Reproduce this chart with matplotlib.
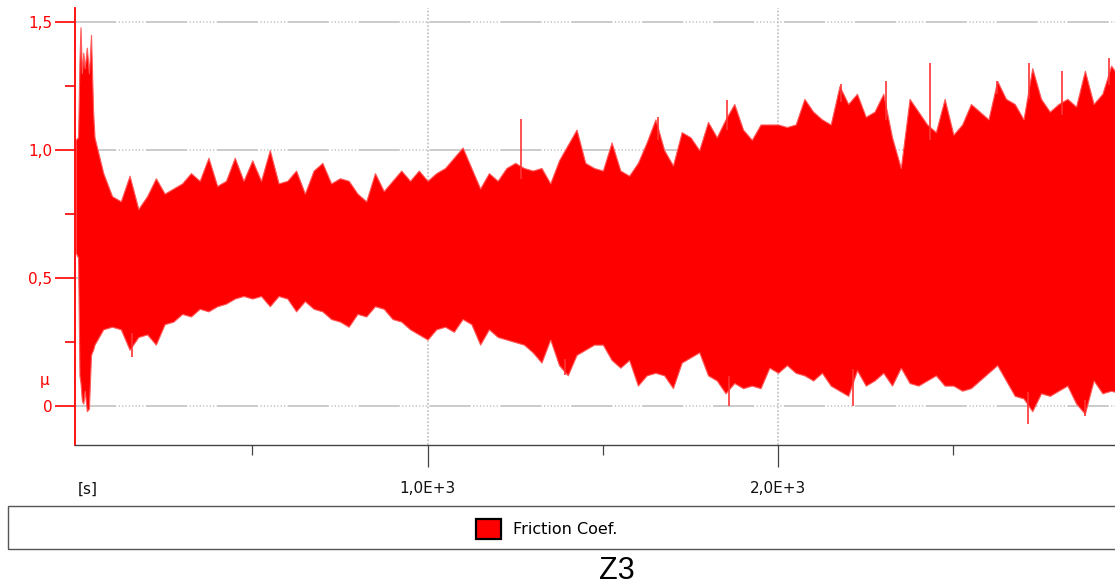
import numpy as np
import matplotlib
matplotlib.use("Agg")
import matplotlib.pyplot as plt
from matplotlib.patches import Patch, Rectangle

plt.rcParams['font.family'] = ['DejaVu Sans']

# ---- data (friction coefficient band vs time [s]) ----
# run-in burst at the very start
t_start = [-4, 3, 7, 10, 14, 18, 22, 28, 34, 40, 46]
hi_start = [1.04, 1.05, 1.35, 1.48, 1.30, 1.38, 1.32, 1.40, 1.30, 1.45, 1.15]
lo_start = [0.60, 0.58, 0.12, 0.09, 0.02, 0.01, 0.06, -0.02, -0.01, 0.20, 0.22]

# rest of the run, one reading every 25 s from 50 s to 2975 s
t_step = 25
mu_hi = [1.05, 0.91, 0.82, 0.80, 0.90, 0.77, 0.82, 0.89, 0.83, 0.85,
         0.87, 0.91, 0.88, 0.97, 0.86, 0.88, 0.97, 0.88, 0.96, 0.88,
         1.00, 0.87, 0.88, 0.92, 0.83, 0.92, 0.95, 0.87, 0.89, 0.88,
         0.83, 0.80, 0.91, 0.84, 0.88, 0.92, 0.88, 0.92, 0.88, 0.91,
         0.93, 0.97, 1.01, 0.93, 0.85, 0.91, 0.88, 0.93, 0.95, 0.93,
         0.92, 0.93, 0.87, 0.96, 1.02, 1.08, 0.95, 0.93, 0.92, 1.03,
         0.92, 0.90, 0.95, 1.03, 1.12, 1.00, 0.94, 1.07, 1.05, 1.00,
         1.11, 1.05, 1.12, 1.18, 1.08, 1.04, 1.10, 1.10, 1.10, 1.09,
         1.10, 1.20, 1.15, 1.12, 1.10, 1.25, 1.18, 1.22, 1.13, 1.15,
         1.22, 1.05, 0.93, 1.20, 1.15, 1.10, 1.07, 1.20, 1.06, 1.10,
         1.18, 1.15, 1.12, 1.27, 1.20, 1.18, 1.12, 1.32, 1.20, 1.15,
         1.18, 1.20, 1.17, 1.31, 1.18, 1.22, 1.33, 1.28]
mu_lo = [0.24, 0.30, 0.31, 0.30, 0.22, 0.27, 0.28, 0.24, 0.32, 0.33,
         0.36, 0.35, 0.38, 0.37, 0.39, 0.40, 0.42, 0.43, 0.42, 0.43,
         0.39, 0.43, 0.42, 0.37, 0.41, 0.38, 0.37, 0.34, 0.33, 0.31,
         0.36, 0.35, 0.39, 0.38, 0.34, 0.33, 0.30, 0.28, 0.26, 0.30,
         0.31, 0.29, 0.34, 0.32, 0.24, 0.30, 0.27, 0.26, 0.25, 0.24,
         0.21, 0.17, 0.26, 0.16, 0.12, 0.20, 0.22, 0.24, 0.24, 0.18,
         0.15, 0.18, 0.08, 0.12, 0.13, 0.12, 0.07, 0.17, 0.19, 0.21,
         0.12, 0.10, 0.05, 0.09, 0.07, 0.08, 0.07, 0.15, 0.13, 0.16,
         0.13, 0.12, 0.10, 0.13, 0.08, 0.06, 0.04, 0.14, 0.08, 0.10,
         0.13, 0.08, 0.15, 0.09, 0.08, 0.10, 0.12, 0.08, 0.08, 0.06,
         0.07, 0.10, 0.13, 0.16, 0.10, 0.04, 0.03, -0.02, 0.05, 0.04,
         0.06, 0.08, 0.01, -0.03, 0.10, 0.05, 0.06, 0.05]

# isolated single spikes
spike_up_t = [1267, 1656, 1854, 2180, 2308, 2434, 2625, 2716, 2810, 2944]
spike_up_mu = [1.12, 1.13, 1.195, 1.26, 1.27, 1.34, 1.27, 1.34, 1.31, 1.36]
spike_dn_t = [157, 1392, 1860, 2214, 2713, 2876]
spike_dn_mu = [0.19, 0.12, 0.00, 0.00, -0.07, -0.04]

y_ticks = [0, 0.5, 1.0, 1.5]
y_labels = ['0', '0,5', '1,0', '1,5']
x_ticks = [1000, 2000]
x_labels = ['1,0E+3', '2,0E+3']

t_grid = 50 + t_step * np.arange(len(mu_hi))
t_all = np.concatenate([t_start, t_grid])
hi_all = np.concatenate([hi_start, mu_hi])
lo_all = np.concatenate([lo_start, mu_lo])

W, H = 1115, 586
fig = plt.figure(figsize=(W / 100, H / 100), dpi=100)
ax = fig.add_axes([75 / W, (H - 445) / H, (W - 75) / W, (445 - 8) / H])

red = '#ff0000'
# grid
grid_ls = (0, (27, 1.6, 0.8, 1.4, 0.8, 1.4, 0.8, 1.4, 0.8, 1.4, 0.8, 1.4, 0.8, 1.4, 0.8, 1.4, 0.8, 1.6))
for v in y_ticks:
    ax.axhline(v, color='#bdbdbd', lw=1.1, ls=grid_ls, zorder=0)
for v in x_ticks:
    ax.axvline(v, color='#bdbdbd', lw=1.1, ls=(0, (1.2, 1.2)), zorder=0)

band = ax.fill_between(t_all, lo_all, hi_all, color=red, lw=0.8,
                       edgecolor=(1, 0.35, 0.35), zorder=2)
base_up = np.interp(spike_up_t, t_all, hi_all)
base_dn = np.interp(spike_dn_t, t_all, lo_all)
ax.vlines(spike_up_t, base_up - 0.05, spike_up_mu, color=(1, 0.2, 0.2), lw=1.2, zorder=2)
ax.vlines(spike_dn_t, spike_dn_mu, base_dn + 0.05, color=(1, 0.2, 0.2), lw=1.2, zorder=2)

ax.set_xlim(-5.7, 2961)
ax.set_ylim(-0.152, 1.555)

ax.spines['top'].set_visible(False)
ax.spines['right'].set_visible(False)
ax.spines['left'].set_color(red)
ax.spines['left'].set_linewidth(1.3)
ax.spines['bottom'].set_color('#444444')
ax.spines['bottom'].set_linewidth(1.0)
for s in ('left', 'bottom'):
    ax.spines[s].set_zorder(3)

ax.set_yticks(y_ticks)
ax.set_yticklabels(y_labels)
ax.set_yticks([0.25, 0.75, 1.25], minor=True)
ax.tick_params(axis='y', which='major', length=14.4, width=1.2, color=red,
               labelcolor=red, labelsize=11, pad=2)
ax.tick_params(axis='y', which='minor', length=7.2, width=1.2, color=red)

ax.set_xticks(x_ticks)
ax.set_xticklabels(x_labels)
ax.set_xticks([500, 1500, 2500], minor=True)
ax.tick_params(axis='x', which='major', length=15.8, width=0.9, color='#444444',
               labelcolor='#111111', labelsize=11, pad=10)
ax.tick_params(axis='x', which='minor', length=7.2, width=0.9, color='#444444')

fig.text(78 / W, 1 - 489 / H, '[s]', ha='left', va='center', fontsize=11, color='#111111')
fig.text(45 / W, 1 - 381 / H, 'μ', ha='center', va='center', fontsize=11, color=red)

# legend strip
fig.add_artist(Rectangle((8 / W, 1 - 549 / H), 1.1, 43 / H, transform=fig.transFigure,
                         fill=False, edgecolor='#555555', lw=1.0))
proxy = Patch(facecolor=red, edgecolor='black', lw=1.6)
fig.legend(handles=[proxy], labels=['Friction Coef.'], loc='center',
           bbox_to_anchor=(547 / W, 1 - 529 / H), frameon=False, fontsize=11.5,
           handlelength=1.55, handleheight=1.55, handletextpad=0.75, borderpad=0)

fig.text(617 / W, 1 - 571 / H, 'Z3', ha='center', va='center', fontsize=22,
         color='black', family='Liberation Sans')

fig.savefig('out.png', dpi=100)
